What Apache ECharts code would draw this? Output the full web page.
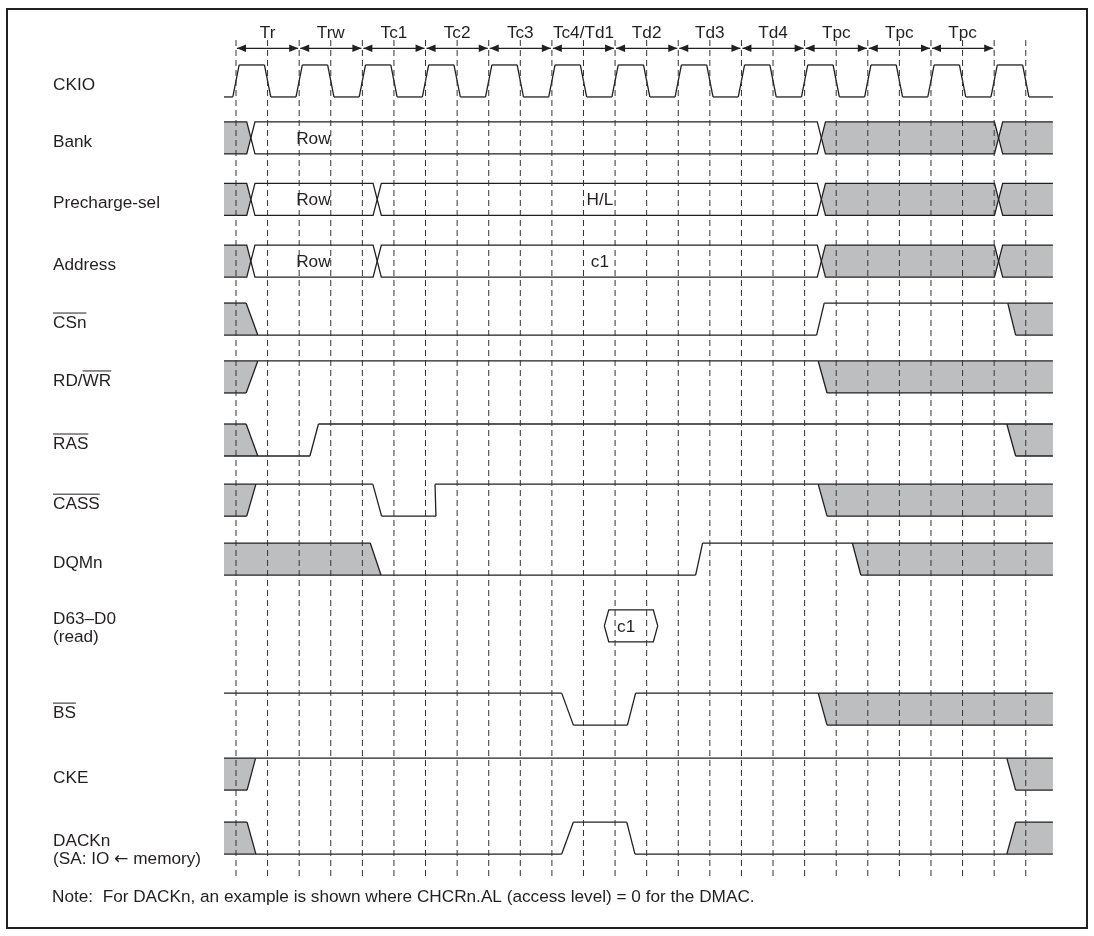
<!DOCTYPE html>
<html><head><meta charset="utf-8">
<script src="https://cdn.jsdelivr.net/npm/echarts@6/dist/echarts.min.js"></script>
<style>html,body{margin:0;padding:0;background:#fff}#c{width:1094px;height:936px}</style>
</head><body><div id="c"></div>
<script>
// ---------------- data (time in half-clock units, levels 1 = high, 0 = low, 'X' = undefined) ----------------
const periodLabels = ['Tr','Trw','Tc1','Tc2','Tc3','Tc4/Td1','Td2','Td3','Td4','Tpc','Tpc','Tpc'];
const periodStart  = [0,2,4,6,8,10,12,14,16,18,20,22];
const periodEnd    = [2,4,6,8,10,12,14,16,18,20,22,24];
const gridTicks    = [0,1,2,3,4,5,6,7,8,9,10,11,12,13,14,15,16,17,18,19,20,21,22,23,24,25];
const T_START = -0.38, T_END = 25.86;

const signalNames = ['CKIO','Bank','Precharge-sel','Address','CSn','RD/WR','RAS','CASS','DQMn','D63–D0','BS','CKE','DACKn'];
const signalSub   = ['','','','','','','','','','(read)','','','(SA: IO {a|←} memory)'];
// overlined character ranges [from, to) in each name
const overline    = [null,null,null,null,[0,3],[3,5],[0,3],[0,4],null,null,[0,2],null,null];
// lane high level (y units, 1 unit = signal swing)
const laneTop     = [2.03,3.81,5.73,7.66,9.47,11.28,13.25,15.13,16.97,19.06,21.66,23.69,25.69];

const ckioStates = [0,1,0,1,0,1,0,1,0,1,0,1,0,1,0,1,0,1,0,1,0,1,0,1,0,1,0];
const ckioEdges  = [[-0.1,0.1],[0.9,1.1],[1.9,2.1],[2.9,3.1],[3.9,4.1],[4.9,5.1],[5.9,6.1],[6.9,7.1],[7.9,8.1],[8.9,9.1],[9.9,10.1],[10.9,11.1],[11.9,12.1],[12.9,13.1],[13.9,14.1],[14.9,15.1],[15.9,16.1],[16.9,17.1],[17.9,18.1],[18.9,19.1],[19.9,20.1],[20.9,21.1],[21.9,22.1],[22.9,23.1],[23.9,24.1],[24.9,25.1]];
const csnStates  = ['X',0,1,'X'];
const csnEdges   = [[0.32,0.69],[18.38,18.62],[24.43,24.68]];
const rdwrStates = ['X',1,'X'];
const rdwrEdges  = [[0.32,0.69],[18.43,18.71]];
const rasStates  = ['X',0,1,'X'];
const rasEdges   = [[0.32,0.69],[2.34,2.61],[24.40,24.68]];
const cassStates = ['X',1,0,1,'X'];
const cassEdges  = [[0.34,0.63],[4.33,4.61],[6.33,6.30],[18.43,18.71]];
const dqmStates  = ['X',0,1,'X'];
const dqmEdges   = [[4.25,4.59],[14.55,14.77],[19.51,19.78]];
const bsStates   = [1,0,1,'X'];
const bsEdges    = [[10.31,10.68],[12.39,12.65],[18.43,18.71]];
const ckeStates  = ['X',1,'X'];
const ckeEdges   = [[0.35,0.62],[24.40,24.68]];
const dackStates = ['X',0,1,0,'X'];
const dackEdges  = [[0.35,0.63],[10.31,10.68],[12.37,12.63],[24.40,24.68]];

// buses: crossing points and state of each segment ('X' shaded, 'V' valid, null = nothing)
const bankCross = [0.47,18.53,24.14];
const bankFill  = ['X','V','X','X'];
const preCross  = [0.47,4.47,18.53,24.14];
const preFill   = ['X','V','V','X','X'];
const addrCross = [0.47,4.47,18.53,24.14];
const addrFill  = ['X','V','V','X','X'];
const dataCross = [11.66,13.35];
const dataFill  = [null,'V',null];
const bankText  = [['Row',2.45]];
const preText   = [['Row',2.45],['H/L',11.52]];
const addrText  = [['Row',2.45],['c1',11.52]];
const dataText  = [['c1',12.35]];

const noteText = 'Note:  For DACKn, an example is shown where CHCRn.AL (access level) = 0 for the DMAC.';

// ---------------- style / layout ----------------
const INK = '#231f20', GREY = '#bcbec0', LW = 1.3, SWING = 1;
const FONT_FAM = '"Liberation Sans", Arial, Helvetica, sans-serif';
const FS = 17.2;
const FONT = FS + 'px ' + FONT_FAM;
const LABEL_X = 53;
const labelDy = [4,4,4,4,4,4,4,4,4,-7,4,4,3];
const SUB_GAP = 18;
const DASH_TOP = 1.25, DASH_BOT = 27.4, ARROW_Y = 1.51, PLABEL_Y = 1.05;
const BUS_HALF = 0.13, DATA_HALF = 0.14;
const RICH = {a:{font: FS + 'px "DejaVu Sans", sans-serif', fill: INK}};

const digital = [
  {lane:0, states:ckioStates, edges:ckioEdges},
  {lane:4, states:csnStates, edges:csnEdges},
  {lane:5, states:rdwrStates, edges:rdwrEdges},
  {lane:6, states:rasStates, edges:rasEdges},
  {lane:7, states:cassStates, edges:cassEdges},
  {lane:8, states:dqmStates, edges:dqmEdges},
  {lane:10, states:bsStates, edges:bsEdges},
  {lane:11, states:ckeStates, edges:ckeEdges},
  {lane:12, states:dackStates, edges:dackEdges}
];
const buses = [
  {lane:1, cross:bankCross, fills:bankFill, text:bankText, half:BUS_HALF},
  {lane:2, cross:preCross, fills:preFill, text:preText, half:BUS_HALF},
  {lane:3, cross:addrCross, fills:addrFill, text:addrText, half:BUS_HALF},
  {lane:9, cross:dataCross, fills:dataFill, text:dataText, half:DATA_HALF}
];

const lineStyle = () => ({stroke: INK, lineWidth: LW, fill: null});

function digitalItem(params, api) {
  const sig = digital[params.dataIndex];
  const top = laneTop[sig.lane];
  const P = (t, l) => api.coord([t, top + (1 - l) * SWING]);
  const polys = [], lines = [];
  const st = sig.states, ed = sig.edges;
  for (let i = 0; i < st.length; i++) {
    const prev = i > 0 ? ed[i - 1] : null, next = i < ed.length ? ed[i] : null;
    if (st[i] === 'X') {
      let lt, lb, rt, rb;
      if (!prev) { lt = lb = T_START; } else if (st[i - 1] === 1) { lt = prev[0]; lb = prev[1]; } else { lt = prev[1]; lb = prev[0]; }
      if (!next) { rt = rb = T_END; } else if (st[i + 1] === 0) { rt = next[0]; rb = next[1]; } else { rt = next[1]; rb = next[0]; }
      polys.push({type:'polygon', shape:{points:[P(lt,1),P(rt,1),P(rb,0),P(lb,0)]}, style:{fill:GREY}});
      lines.push({type:'polyline', shape:{points:[P(lt,1),P(rt,1)]}, style:lineStyle()});
      lines.push({type:'polyline', shape:{points:[P(lb,0),P(rb,0)]}, style:lineStyle()});
    } else {
      const a = prev ? prev[1] : T_START, b = next ? next[0] : T_END;
      lines.push({type:'polyline', shape:{points:[P(a, st[i]), P(b, st[i])]}, style:lineStyle()});
    }
  }
  for (let j = 0; j < ed.length; j++) {
    const a = st[j], b = st[j + 1];
    let la, lb;
    if (a === 'X') { lb = b; la = 1 - b; } else if (b === 'X') { la = a; lb = 1 - a; } else { la = a; lb = b; }
    lines.push({type:'polyline', shape:{points:[P(ed[j][0], la), P(ed[j][1], lb)]}, style:lineStyle()});
  }
  return {type:'group', children: polys.concat(lines)};
}

function busItem(params, api) {
  const b = buses[params.dataIndex];
  const top = laneTop[b.lane];
  const P = (t, l) => api.coord([t, top + (1 - l) * SWING]);
  const polys = [], lines = [], texts = [];
  const cr = b.cross, h = b.half;
  for (let i = 0; i < b.fills.length; i++) {
    const f = b.fills[i];
    if (f === null) continue;
    const a = i > 0 ? cr[i - 1] : null, e = i < cr.length ? cr[i] : null;
    const topC = [], botC = [];
    if (a !== null) { topC.push(P(a, 0.5)); botC.push(P(a, 0.5)); }
    const l = a !== null ? a + h : T_START, r = e !== null ? e - h : T_END;
    topC.push(P(l, 1), P(r, 1)); botC.push(P(l, 0), P(r, 0));
    if (e !== null) { topC.push(P(e, 0.5)); botC.push(P(e, 0.5)); }
    if (f === 'X') polys.push({type:'polygon', shape:{points: topC.concat(botC.slice().reverse())}, style:{fill:GREY}});
    lines.push({type:'polyline', shape:{points:topC}, style:lineStyle()});
    lines.push({type:'polyline', shape:{points:botC}, style:lineStyle()});
  }
  b.text.forEach(([txt, t]) => {
    const p = P(t, 0.5);
    texts.push({type:'text', x:p[0], y:p[1] + 1, style:{text:txt, fill:INK, font:FONT, textAlign:'center', textVerticalAlign:'middle'}});
  });
  return {type:'group', children: polys.concat(lines, texts)};
}

function dashItem(params, api) {
  const t = gridTicks[params.dataIndex];
  const a = api.coord([t, DASH_TOP]), b = api.coord([t, DASH_BOT]);
  return {type:'line', shape:{x1:a[0], y1:a[1], x2:b[0], y2:b[1]}, style:{stroke:'#333', lineWidth:1, lineDash:[6,4]}};
}

const AL = 9, AH = 3.8;
function periodItem(params, api) {
  const i = params.dataIndex;
  const a = api.coord([periodStart[i], ARROW_Y]), b = api.coord([periodEnd[i], ARROW_Y]);
  const c = api.coord([(periodStart[i] + periodEnd[i]) / 2, PLABEL_Y]);
  const y = a[1];
  const ax = a[0] + 1, bx = b[0] - 1;
  return {type:'group', children:[
    {type:'line', shape:{x1:ax, y1:y, x2:bx, y2:y}, style:{stroke:INK, lineWidth:1.2}},
    {type:'polygon', shape:{points:[[ax,y],[ax+AL,y-AH],[ax+AL,y+AH]]}, style:{fill:INK}},
    {type:'polygon', shape:{points:[[bx,y],[bx-AL,y-AH],[bx-AL,y+AH]]}, style:{fill:INK}},
    {type:'text', x:c[0], y:c[1], style:{text:periodLabels[i], fill:INK, font:FONT, textAlign:'center', textVerticalAlign:'middle'}}
  ]};
}

const mctx = document.createElement('canvas').getContext('2d');
mctx.font = FONT;
function labelItem(params, api) {
  const i = params.dataIndex;
  const yc = api.coord([0, laneTop[i] + SWING / 2])[1] + labelDy[i];
  const ch = [{type:'text', x:LABEL_X, y:yc, style:{text:signalNames[i], fill:INK, font:FONT, textAlign:'left', textVerticalAlign:'middle'}}];
  if (signalSub[i]) ch.push({type:'text', x:LABEL_X, y:yc + SUB_GAP, style:{text:signalSub[i], fill:INK, font:FONT, rich:RICH, textAlign:'left', textVerticalAlign:'middle'}});
  const ov = overline[i];
  if (ov) {
    const x0 = LABEL_X + mctx.measureText(signalNames[i].slice(0, ov[0])).width;
    const x1 = LABEL_X + mctx.measureText(signalNames[i].slice(0, ov[1])).width;
    ch.push({type:'line', shape:{x1:x0, y1:yc - 10, x2:x1, y2:yc - 10}, style:{stroke:INK, lineWidth:1}});
  }
  return {type:'group', children:ch};
}

const PX_PER_T = 31.59, X_AT_0 = 236, X_MIN = -0.4, X_MAX = 26;
const gridLeft = X_AT_0 + X_MIN * PX_PER_T;
const gridRight = 1094 - (X_AT_0 + X_MAX * PX_PER_T);

const chart = echarts.init(document.getElementById('c'), null, {renderer:'canvas'});
chart.setOption({
  animation:false,
  backgroundColor:'#fff',
  grid:{left:gridLeft, right:gridRight, top:0, bottom:0},
  xAxis:{type:'value', min:X_MIN, max:X_MAX, show:false},
  yAxis:{type:'value', min:0, max:29.25, inverse:true, show:false},
  graphic:[
    {type:'rect', shape:{x:7, y:9, width:1080, height:919}, style:{fill:null, stroke:INK, lineWidth:2}, z:100},
    {type:'text', x:52, y:897, style:{text:noteText, fill:INK, font:FONT, textVerticalAlign:'middle'}}
  ],
  series:[
    {type:'custom', name:'buses', renderItem:busItem, data:buses.map((b,i)=>i), clip:false, z:2},
    {type:'custom', name:'signals', renderItem:digitalItem, data:digital.map((d,i)=>i), clip:false, z:2},
    {type:'custom', name:'dashes', renderItem:dashItem, data:gridTicks, clip:false, z:3},
    {type:'custom', name:'periods', renderItem:periodItem, data:periodLabels, clip:false, z:4},
    {type:'custom', name:'labels', renderItem:labelItem, data:signalNames, clip:false, z:4}
  ]
});
</script></body></html>
